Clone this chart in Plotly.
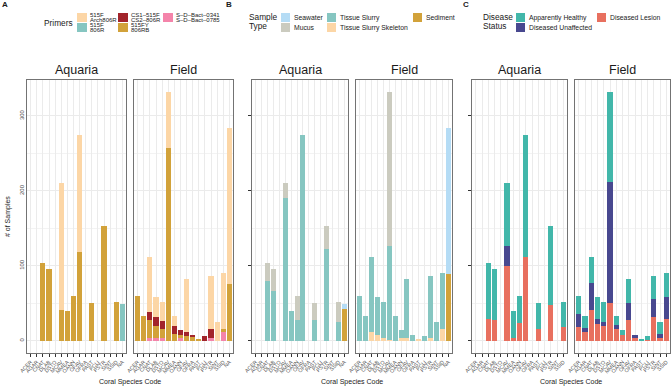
import plotly.graph_objects as go

W, H = 672, 387

species = ["ACER", "AGAR", "CNAT", "DLAB", "DSTO", "MCAV", "MMEA", "OANN",
           "OFAV", "OFRA", "PAST", "PCLI", "PSTR", "SINT", "SSID", "NA"]
species_c = species[:15]

# ---- Panel A: Primers (segment heights) ----
primer_keys = ["pink", "gold", "red", "teal", "pale"]
primer_labels = [["S–D–Bact–0341", "S–D–Bact–0785"], ["515FY", "806RB"],
                 ["CS1–515F", "CS2–806R"], ["515F", "806R"], ["515F", "Arch806R"]]
primer_colors = ["#F484AA", "#D2A23A", "#A2242B", "#86C6C1", "#FCD6A6"]
A_aq = {
    "pink": [0] * 16,
    "gold": [0, 0, 104, 95, 0, 41, 39, 60, 119, 0, 50, 0, 153, 0, 52, 0],
    "red":  [0] * 16,
    "teal": [0] * 15 + [49],
    "pale": [0, 0, 0, 0, 0, 170, 0, 0, 155, 0, 0, 0, 0, 0, 0, 0],
}
A_fd = {
    "pink": [0, 0, 4, 3, 4, 0, 0, 4, 0, 0, 0, 0, 4, 0, 12, 0],
    "gold": [60, 33, 24, 17, 12, 257, 9, 3, 6, 6, 2, 0, 0, 0, 4, 75],
    "red":  [0, 0, 10, 12, 10, 0, 11, 7, 6, 1, 0, 6, 11, 0, 0, 0],
    "teal": [0] * 16,
    "pale": [0, 0, 74, 26, 25, 75, 13, 0, 70, 0, 0, 0, 71, 25, 74, 209],
}

# ---- Panel B: Sample type ----
sample_names = ["Sediment", "Tissue Slurry Skeleton", "Tissue Slurry", "Mucus", "Seawater"]
sample_colors = ["#D2A23A", "#FCD6A6", "#86C6C1", "#CBCBBF", "#B5DCF5"]
B_aq = {
    "Sediment": [0] * 15 + [42],
    "Tissue Slurry Skeleton": [0] * 16,
    "Tissue Slurry": [0, 0, 79, 66, 0, 190, 39, 28, 274, 0, 27, 0, 123, 0, 25, 0],
    "Mucus": [0, 0, 25, 29, 0, 21, 0, 32, 0, 0, 23, 0, 30, 0, 27, 0],
    "Seawater": [0] * 15 + [7],
}
B_fd = {
    "Sediment": [0] * 15 + [89],
    "Tissue Slurry Skeleton": [0, 0, 11, 7, 4, 1, 0, 4, 3, 0, 2, 0, 4, 0, 16, 0],
    "Tissue Slurry": [60, 33, 101, 51, 47, 125, 33, 10, 79, 7, 0, 6, 82, 25, 74, 0],
    "Mucus": [0, 0, 0, 0, 0, 206, 0, 0, 0, 0, 0, 0, 0, 0, 0, 0],
    "Seawater": [0] * 15 + [195],
}

# ---- Panel C: Disease status ----
status_names = ["Diseased Lesion", "Diseased Unaffected", "Apparently Healthy"]
status_colors = ["#E8705F", "#48488F", "#42B7AA"]
C_aq = {
    "Diseased Lesion": [0, 0, 29, 28, 0, 99, 4, 23, 112, 0, 15, 0, 47, 0, 18],
    "Diseased Unaffected": [0, 0, 0, 0, 0, 27, 0, 0, 0, 0, 0, 0, 0, 0, 0],
    "Apparently Healthy": [0, 0, 75, 67, 0, 85, 35, 37, 162, 0, 35, 0, 106, 0, 34],
}
C_fd = {
    "Diseased Lesion": [18, 11, 41, 22, 19, 50, 15, 7, 27, 3, 0, 1, 31, 4, 29],
    "Diseased Unaffected": [18, 6, 36, 7, 6, 162, 6, 0, 23, 4, 0, 0, 25, 5, 29],
    "Apparently Healthy": [24, 16, 35, 29, 26, 120, 12, 7, 32, 0, 2, 5, 30, 16, 32],
}

FONT = "Liberation Sans, Arial, sans-serif"
fig = go.Figure()

def add_bars(xa, ya, cats, series, keys, colors):
    for k, c in zip(keys, colors):
        fig.add_trace(go.Bar(x=cats, y=series[k], marker=dict(color=c, line=dict(width=0)),
                             width=0.85, xaxis=xa, yaxis=ya, showlegend=False,
                             hoverinfo="x+y"))

add_bars("x", "y", species, A_aq, primer_keys, primer_colors)
add_bars("x2", "y2", species, A_fd, primer_keys, primer_colors)
add_bars("x3", "y3", species, B_aq, sample_names, sample_colors)
add_bars("x4", "y4", species, B_fd, sample_names, sample_colors)
add_bars("x5", "y5", species_c, C_aq, status_names, status_colors)
add_bars("x6", "y6", species_c, C_fd, status_names, status_colors)

def X(px):
    return px / W

def Y(py):
    return 1 - py / H

top, bot = 80, 353
panels = [(27, 126), (134, 233), (252, 348), (356, 452), (472, 567), (575, 670)]
layout = dict(width=W, height=H, margin=dict(l=0, r=0, t=0, b=0, autoexpand=False),
              paper_bgcolor="white", plot_bgcolor="white", barmode="stack",
              font=dict(family=FONT, color="#1a1a1a"), showlegend=False)
for i, (x0, x1) in enumerate(panels):
    n = "" if i == 0 else str(i + 1)
    cats = species_c if i >= 4 else species
    layout["xaxis" + n] = dict(
        domain=[X(x0), X(x1)], anchor="y" + n, type="category",
        categoryorder="array", categoryarray=cats,
        tickmode="array", tickvals=cats, ticktext=cats,
        range=[-0.6, len(cats) - 0.4], tickangle=-45,
        tickfont=dict(size=5.3, color="#4d4d4d"), ticks="outside", ticklen=3,
        tickcolor="#333333", tickwidth=1, showgrid=True, gridcolor="#ebebeb",
        gridwidth=1, showline=True, mirror=True, linecolor="#737373", linewidth=1,
        zeroline=False, fixedrange=True, automargin=False)
    layout["yaxis" + n] = dict(
        domain=[Y(bot), Y(top)], anchor="x" + n, range=[-16.5, 348],
        tickmode="array", tickvals=[0, 100, 200, 300],
        ticktext=["0", "100", "200", "300"] if i == 0 else [""] * 4,
        showticklabels=(i in (0, 2, 4)),
        tickangle=-90, tickfont=dict(size=6, color="#4d4d4d"),
        ticks="outside" if i in (2, 4) else "", ticklen=3, tickcolor="#333333",
        showgrid=True, gridcolor="#ebebeb", gridwidth=1,
        minor=dict(tickvals=[50, 150, 250], showgrid=True, gridcolor="#f3f3f3", gridwidth=1),
        showline=True, mirror=True, linecolor="#737373", linewidth=1,
        zeroline=False, fixedrange=True, automargin=False)
fig.update_layout(**layout)

ann = []
shapes = []

def text(px, py, s, size, xanchor="left", yanchor="middle", bold=False, angle=0, color="#1a1a1a"):
    ann.append(dict(x=X(px), y=Y(py), xref="paper", yref="paper", text=("<b>%s</b>" % s) if bold else s,
                    showarrow=False, xanchor=xanchor, yanchor=yanchor, textangle=angle,
                    borderpad=0, font=dict(size=size, color=color, family=FONT)))

def key(px, py, color, w=9, h=9):
    shapes.append(dict(type="rect", xref="paper", yref="paper", x0=X(px), x1=X(px + w),
                       y0=Y(py + h), y1=Y(py), fillcolor=color, line=dict(width=0)))

# panel letters
text(1, 5, "A", 8, bold=True)
text(225, 5, "B", 8, bold=True)
text(462, 5, "C", 8, bold=True)

# facet titles
for (x0, x1), lab in zip(panels, ["Aquaria", "Field"] * 3):
    text((x0 + x1) / 2, 70, lab, 12.5, xanchor="center")

# axis titles
for cx in [(27 + 233) / 2, (252 + 452) / 2, (472 + 670) / 2]:
    text(cx, 382, "Coral Species Code", 7, xanchor="center")
text(8, 217, "# of Samples", 7, xanchor="center", angle=-90)

# Legend A
text(43, 23, "Primers", 8.3)
pa_pos = [(163, 13), (118, 23), (118, 13), (77, 23), (77, 13)]
for (kx, ky), col, lines in zip(pa_pos, primer_colors, primer_labels):
    key(kx, ky, col, 10, 9)
    text(kx + 12, ky + 2.2, lines[0], 6)
    text(kx + 12, ky + 7.0, lines[1], 6)

# Legend B
text(248, 17, "Sample", 8.3)
text(248, 26, "Type", 8.3)
pb_pos = [(413, 13), (327, 23), (327, 13), (281, 23), (281, 13)]
for (kx, ky), col, lab in zip(pb_pos, sample_colors, sample_names):
    key(kx, ky, col)
    text(kx + 12, ky + 4.5, lab, 6.8)

# Legend C
text(482, 17, "Disease", 8.3)
text(482, 26, "Status", 8.3)
pc_pos = [(597, 13), (516, 23), (516, 13)]
for (kx, ky), col, lab in zip(pc_pos, status_colors, status_names):
    key(kx, ky, col)
    text(kx + 12, ky + 4.5, lab, 6.8)

fig.update_layout(annotations=ann, shapes=shapes)
fig.write_html("out.html", config={"displayModeBar": False},
               post_script="document.body.style.margin='0px';")
